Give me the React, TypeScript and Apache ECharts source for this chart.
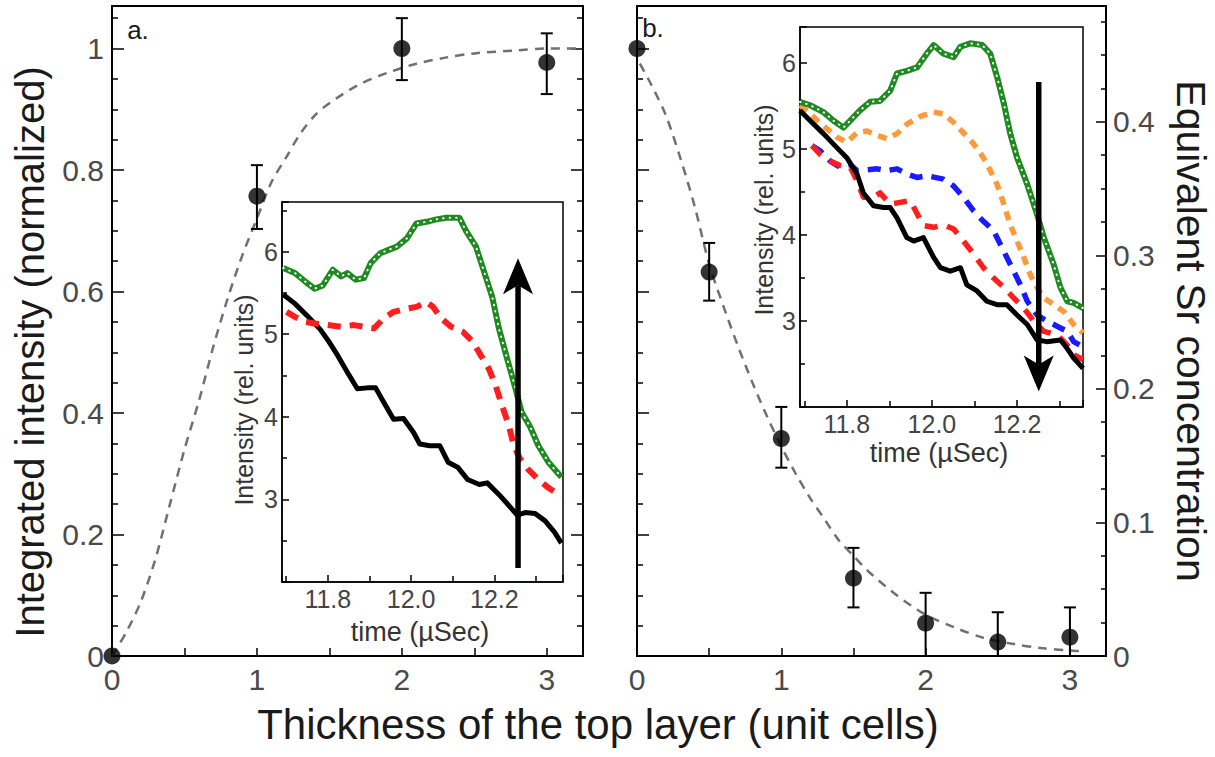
import React, { useEffect, useRef } from "react";
import * as echarts from "echarts";

// ---------- Panel a (main) ----------
const thicknessA = [0, 1, 2, 3];
const intensityA = [0, 0.757, 1.0, 0.977];
const errLowA = [null, 0.703, 0.948, 0.925];
const errHighA = [null, 0.808, 1.05, 1.025];
const fitXA = [0, 0.1, 0.2, 0.3, 0.4, 0.5, 0.6, 0.7, 0.8, 0.9, 1.0, 1.1, 1.2, 1.3, 1.4, 1.5, 1.7, 1.9, 2.1, 2.3, 2.5, 2.8, 3.0, 3.25];
const fitYA = [0, 0.04, 0.09, 0.16, 0.25, 0.34, 0.42, 0.51, 0.59, 0.66, 0.72, 0.78, 0.82, 0.86, 0.89, 0.91, 0.94, 0.96, 0.975, 0.985, 0.992, 0.997, 1.0, 1.0];

// ---------- Panel b (main) ----------
const thicknessB = [0, 0.5, 1, 1.5, 2, 2.5, 3];
const intensityB = [1.0, 0.632, 0.358, 0.128, 0.054, 0.023, 0.031];
const errLowB = [null, 0.585, 0.31, 0.08, 0, 0, 0];
const errHighB = [null, 0.68, 0.41, 0.178, 0.104, 0.072, 0.08];
const fitXB = [0.02, 0.1, 0.2, 0.3, 0.4, 0.5, 0.6, 0.7, 0.8, 0.9, 1.0, 1.1, 1.2, 1.3, 1.4, 1.5, 1.6, 1.8, 2.0, 2.2, 2.4, 2.6, 2.8, 3.0, 3.07];
const fitYB = [0.975, 0.94, 0.89, 0.82, 0.74, 0.645, 0.575, 0.51, 0.45, 0.395, 0.345, 0.30, 0.26, 0.225, 0.19, 0.165, 0.14, 0.10, 0.068, 0.047, 0.03, 0.02, 0.013, 0.009, 0.008];

// ---------- Tick labels ----------
const thickTicks = [0, 1, 2, 3];
const normTicks = [0, 0.2, 0.4, 0.6, 0.8, 1];
const srTicks = [0, 0.1, 0.2, 0.3, 0.4];
const timeTicks = [11.8, 12.0, 12.2];
const insetIntTicks = [3, 4, 5, 6];

// ---------- Inset a: [time (µs), intensity] ----------
const insetA_black = [[11.693,5.48],[11.721,5.37],[11.753,5.21],[11.780,5.07],[11.800,4.93],[11.824,4.74],[11.847,4.54],[11.871,4.34],[11.895,4.35],[11.915,4.35],[11.934,4.18],[11.958,3.97],[11.982,3.98],[12.006,3.81],[12.021,3.67],[12.045,3.65],[12.069,3.65],[12.089,3.45],[12.112,3.39],[12.136,3.24],[12.164,3.18],[12.183,3.20],[12.211,3.06],[12.243,2.88],[12.255,2.81],[12.274,2.84],[12.298,2.83],[12.322,2.74],[12.345,2.60],[12.361,2.47]];
const insetA_green = [[11.693,5.80],[11.721,5.74],[11.745,5.64],[11.768,5.55],[11.788,5.59],[11.812,5.78],[11.832,5.70],[11.847,5.74],[11.867,5.66],[11.887,5.68],[11.903,5.86],[11.926,5.98],[11.946,6.02],[11.966,6.06],[11.990,6.16],[12.013,6.34],[12.037,6.36],[12.061,6.39],[12.085,6.41],[12.116,6.41],[12.132,6.25],[12.156,6.06],[12.179,5.70],[12.195,5.45],[12.211,5.07],[12.231,4.70],[12.251,4.34],[12.266,4.05],[12.286,3.88],[12.306,3.65],[12.330,3.45],[12.361,3.27]];
const insetA_red = [[11.701,5.27],[11.721,5.21],[11.745,5.15],[11.768,5.13],[11.800,5.11],[11.832,5.09],[11.863,5.11],[11.887,5.09],[11.911,5.07],[11.934,5.19],[11.958,5.27],[11.990,5.31],[12.013,5.33],[12.037,5.39],[12.053,5.33],[12.073,5.19],[12.096,5.09],[12.124,5.03],[12.148,4.91],[12.168,4.74],[12.187,4.58],[12.203,4.38],[12.219,4.13],[12.235,3.89],[12.247,3.65],[12.262,3.49],[12.282,3.36],[12.306,3.24],[12.330,3.14],[12.361,3.04]];
const arrowA = [12.257, 2.17, 5.92];

// ---------- Inset b ----------
const insetB_green = [[11.690,5.55],[11.714,5.51],[11.745,5.43],[11.769,5.33],[11.792,5.25],[11.808,5.33],[11.831,5.45],[11.855,5.55],[11.878,5.56],[11.902,5.68],[11.918,5.88],[11.941,5.91],[11.965,5.95],[11.988,6.11],[12.004,6.21],[12.027,6.11],[12.051,6.07],[12.067,6.19],[12.090,6.23],[12.118,6.21],[12.137,6.11],[12.153,5.84],[12.169,5.53],[12.184,5.18],[12.200,4.90],[12.224,4.59],[12.247,4.24],[12.263,3.97],[12.286,3.66],[12.302,3.39],[12.318,3.23],[12.333,3.21],[12.355,3.15]];
const insetB_orange = [[11.690,5.51],[11.714,5.41],[11.745,5.27],[11.776,5.14],[11.800,5.08],[11.824,5.19],[11.847,5.21],[11.871,5.16],[11.894,5.12],[11.918,5.18],[11.941,5.29],[11.973,5.38],[12.004,5.43],[12.027,5.41],[12.051,5.31],[12.074,5.19],[12.098,5.06],[12.121,4.90],[12.137,4.75],[12.153,4.59],[12.169,4.36],[12.184,4.12],[12.200,3.93],[12.216,3.74],[12.231,3.54],[12.247,3.39],[12.263,3.27],[12.286,3.19],[12.310,3.11],[12.333,2.96],[12.355,2.86]];
const insetB_blue = [[11.718,5.04],[11.737,4.98],[11.761,4.86],[11.784,4.79],[11.808,4.82],[11.824,4.75],[11.871,4.77],[11.894,4.75],[11.918,4.77],[11.941,4.71],[11.965,4.67],[11.988,4.69],[12.027,4.65],[12.051,4.57],[12.074,4.44],[12.098,4.28],[12.121,4.16],[12.145,4.05],[12.169,3.81],[12.184,3.66],[12.208,3.42],[12.224,3.23],[12.247,3.07],[12.270,3.00],[12.294,2.94],[12.318,2.88],[12.333,2.76],[12.355,2.70]];
const insetB_red = [[11.718,5.04],[11.737,4.94],[11.761,4.86],[11.784,4.81],[11.808,4.79],[11.824,4.63],[11.839,4.44],[11.863,4.44],[11.878,4.49],[11.902,4.36],[11.925,4.38],[11.949,4.40],[11.980,4.11],[12.004,4.09],[12.027,4.12],[12.051,4.07],[12.074,3.93],[12.098,3.78],[12.121,3.62],[12.145,3.50],[12.169,3.39],[12.192,3.27],[12.216,3.15],[12.239,3.00],[12.263,2.88],[12.294,2.84],[12.318,2.72],[12.333,2.61],[12.355,2.55]];
const insetB_black = [[11.690,5.45],[11.714,5.33],[11.745,5.18],[11.776,5.02],[11.800,4.90],[11.824,4.71],[11.839,4.49],[11.863,4.34],[11.886,4.32],[11.902,4.32],[11.918,4.20],[11.941,3.97],[11.957,3.93],[11.980,3.97],[12.004,3.74],[12.020,3.62],[12.043,3.58],[12.067,3.62],[12.082,3.42],[12.106,3.35],[12.129,3.23],[12.153,3.19],[12.176,3.19],[12.200,3.07],[12.224,2.96],[12.247,2.78],[12.270,2.76],[12.302,2.78],[12.318,2.68],[12.333,2.57],[12.355,2.45]];
const arrowB = [12.251, 5.78, 2.18];

const FONT = "Liberation Sans";

const pickLabel = (list: number[], fmt: (v: number) => string) => (v: number) => {
  const m = list.find((t) => Math.abs(t - v) < 1e-6);
  return m === undefined ? "" : fmt(m);
};

const zip = (xs: number[], ys: number[]) => xs.map((x, i) => [x, ys[i]]);

const errData = (xs: number[], lo: (number | null)[], hi: (number | null)[]) =>
  xs.map((x, i) => (lo[i] == null ? null : [x, lo[i], hi[i]])).filter((d) => d !== null);

const errorRender = (params: any, api: any) => {
  const x = api.value(0);
  const pLo = api.coord([x, api.value(1)]);
  const pHi = api.coord([x, api.value(2)]);
  const hw = 6;
  const st = { stroke: "#000", lineWidth: 2 };
  return {
    type: "group",
    children: [
      { type: "line", shape: { x1: pLo[0], y1: pLo[1], x2: pHi[0], y2: pHi[1] }, style: st },
      { type: "line", shape: { x1: pHi[0] - hw, y1: pHi[1], x2: pHi[0] + hw, y2: pHi[1] }, style: st },
      { type: "line", shape: { x1: pLo[0] - hw, y1: pLo[1], x2: pLo[0] + hw, y2: pLo[1] }, style: st },
    ],
  };
};

const arrowRender = (params: any, api: any) => {
  const x = api.value(0);
  const p0 = api.coord([x, api.value(1)]);
  const p1 = api.coord([x, api.value(2)]);
  const dir = p1[1] < p0[1] ? -1 : 1;
  const headLen = 36, headW = 15, notch = 9;
  const px = p1[0];
  const tipY = p1[1];
  const baseY = tipY - dir * headLen;
  const notchY = tipY - dir * (headLen - notch);
  return {
    type: "group",
    children: [
      { type: "line", shape: { x1: px, y1: p0[1], x2: px, y2: notchY }, style: { stroke: "#000", lineWidth: 5.5 } },
      { type: "polygon", shape: { points: [[px, tipY], [px - headW, baseY], [px, notchY], [px + headW, baseY]] }, style: { fill: "#000" } },
    ],
  };
};

export default function App() {
  const ref = useRef<HTMLDivElement>(null);

  useEffect(() => {
    if (!ref.current) return;
    const chart = echarts.init(ref.current, null, { renderer: "svg" });

    const mainAxisLine = { show: true, lineStyle: { color: "#000", width: 2 } };
    const insetAxisLine = { show: true, lineStyle: { color: "#000", width: 1.5 } };
    const mainLabel = { fontSize: 30, color: "#4a4a4a", fontFamily: FONT };
    const insetLabel = { fontSize: 25, color: "#444", fontFamily: FONT };

    const mainX = (gridIndex: number) => ({
      type: "value", gridIndex, min: 0, max: 3.25, interval: 1,
      axisLine: mainAxisLine,
      axisTick: { show: true, inside: true, length: 8, lineStyle: { color: "#000", width: 1.5 } },
      minorTick: { show: true, splitNumber: 2, length: 8, lineStyle: { color: "#000", width: 1.5 } },
      splitLine: { show: false }, minorSplitLine: { show: false },
      axisLabel: { ...mainLabel, margin: 8, formatter: pickLabel(thickTicks, (v) => String(v)) },
    });
    const mainY = (gridIndex: number, position: string, labels: boolean) => ({
      type: "value", gridIndex, position, min: 0, max: 1.07, interval: 0.2,
      axisLine: mainAxisLine,
      axisTick: { show: true, inside: true, length: 12, lineStyle: { color: "#000", width: 1.5 } },
      minorTick: { show: true, splitNumber: 4, length: 6, lineStyle: { color: "#000", width: 1.5 } },
      splitLine: { show: false }, minorSplitLine: { show: false },
      axisLabel: { show: labels, ...mainLabel, margin: 8, formatter: pickLabel(normTicks, (v) => String(v)) },
    });
    const insetX = (gridIndex: number, max: number) => ({
      type: "value", gridIndex, min: 11.69, max, splitNumber: 3, z: 6,
      axisLine: insetAxisLine,
      axisTick: { show: true, inside: true, length: 7, lineStyle: { color: "#000", width: 1.5 } },
      minorTick: { show: true, splitNumber: 2, length: 6, lineStyle: { color: "#000", width: 1.5 } },
      splitLine: { show: false }, minorSplitLine: { show: false },
      axisLabel: { ...insetLabel, margin: 4, formatter: pickLabel(timeTicks, (v) => v.toFixed(1)) },
    });
    const insetY = (gridIndex: number, max: number) => ({
      type: "value", gridIndex, min: 2, max, interval: 1, z: 6,
      axisLine: insetAxisLine,
      axisTick: { show: true, inside: true, length: 7, lineStyle: { color: "#000", width: 1.5 } },
      minorTick: { show: true, splitNumber: 2, length: 5, lineStyle: { color: "#000", width: 1.5 } },
      splitLine: { show: false }, minorSplitLine: { show: false },
      axisLabel: { ...insetLabel, margin: 4, formatter: pickLabel(insetIntTicks, (v) => String(v)) },
    });

    const fitStyle = { color: "#707070", width: 2.5, type: [9, 7] };

    const insetLine = (data: number[][], xi: number, yi: number, color: string, width: number, type: any, z: number) => ({
      type: "line", xAxisIndex: xi, yAxisIndex: yi, data, showSymbol: false, symbol: "none",
      lineStyle: { color, width, type, cap: "butt", join: "round" }, z, silent: true,
    });
    const greenDots = (data: number[][], xi: number, yi: number, z: number) => ({
      type: "line", xAxisIndex: xi, yAxisIndex: yi, data, showSymbol: false, symbol: "none",
      lineStyle: { color: "#ffffff", width: 2, type: [0.5, 6], cap: "round" }, z, silent: true,
    });

    const titleText = (text: string, x: number, y: number, size: number, rotation = 0, fill = "#1a1a1a") => ({
      type: "text", x, y, rotation, silent: true, z: 20,
      style: { text, fontSize: size, fontFamily: FONT, fill, align: "center", verticalAlign: "middle", textAlign: "center", textVerticalAlign: "middle" },
    });

    chart.setOption({
      animation: false,
      backgroundColor: "#ffffff",
      textStyle: { fontFamily: FONT },
      grid: [
        { left: 112, top: 6, width: 471, height: 650, show: true, borderColor: "#000", borderWidth: 2, backgroundColor: "transparent" },
        { left: 637, top: 6, width: 469, height: 650, show: true, borderColor: "#000", borderWidth: 2, backgroundColor: "transparent" },
        { left: 282, top: 202, width: 281, height: 380, show: true, borderColor: "#000", borderWidth: 1.5, backgroundColor: "#ffffff", z: 5 },
        { left: 800, top: 27, width: 283, height: 380, show: true, borderColor: "#000", borderWidth: 1.5, backgroundColor: "#ffffff", z: 5 },
      ],
      xAxis: [mainX(0), mainX(1), insetX(2, 12.365), insetX(3, 12.355)],
      yAxis: [
        mainY(0, "left", true),
        mainY(0, "right", false),
        mainY(1, "left", false),
        {
          type: "value", gridIndex: 1, position: "right", min: 0, max: 0.4866, interval: 0.1,
          axisLine: mainAxisLine,
          axisTick: { show: true, inside: true, length: 10, lineStyle: { color: "#000", width: 1.5 } },
          minorTick: { show: true, splitNumber: 4, length: 5, lineStyle: { color: "#000", width: 1.5 } },
          splitLine: { show: false }, minorSplitLine: { show: false },
          axisLabel: { ...mainLabel, margin: 7, formatter: pickLabel(srTicks, (v) => String(v)) },
        },
        insetY(2, 6.6),
        insetY(3, 6.42),
      ],
      graphic: {
        elements: [
          titleText("Integrated intensity (normalized)", 30, 352, 40, Math.PI / 2),
          titleText("Thickness of the top layer (unit cells)", 598, 724, 42),
          titleText("Equivalent Sr concentration", 1191, 331, 41, -Math.PI / 2),
          titleText("a.", 138, 30, 26),
          titleText("b.", 653, 28, 26),
          titleText("Intensity (rel. units)", 244, 400, 25, Math.PI / 2, "#333"),
          titleText("time (\u00b5Sec)", 420, 632, 27, 0, "#333"),
          titleText("Intensity (rel. units)", 764, 210, 25, Math.PI / 2, "#333"),
          titleText("time (\u00b5Sec)", 939, 453, 27, 0, "#333"),
        ],
      },
      series: [
        // Panel a
        { type: "line", xAxisIndex: 0, yAxisIndex: 0, data: zip(fitXA, fitYA), showSymbol: false, symbol: "none", smooth: 0.3, lineStyle: fitStyle, z: 2, silent: true },
        { type: "custom", xAxisIndex: 0, yAxisIndex: 0, data: errData(thicknessA, errLowA, errHighA), renderItem: errorRender, encode: { x: 0, y: [1, 2] }, z: 3, silent: true, clip: false },
        { type: "scatter", xAxisIndex: 0, yAxisIndex: 0, data: zip(thicknessA, intensityA), symbolSize: 17, itemStyle: { color: "#000" }, z: 4, silent: true, clip: false },
        // Panel b
        { type: "line", xAxisIndex: 1, yAxisIndex: 2, data: zip(fitXB, fitYB), showSymbol: false, symbol: "none", smooth: 0.3, lineStyle: fitStyle, z: 2, silent: true },
        { type: "custom", xAxisIndex: 1, yAxisIndex: 2, data: errData(thicknessB, errLowB, errHighB), renderItem: errorRender, encode: { x: 0, y: [1, 2] }, z: 3, silent: true, clip: false },
        { type: "scatter", xAxisIndex: 1, yAxisIndex: 2, data: zip(thicknessB, intensityB), symbolSize: 17, itemStyle: { color: "#000" }, z: 4, silent: true, clip: false },
        // Inset a
        insetLine(insetA_black, 2, 4, "#000000", 5, "solid", 8),
        insetLine(insetA_red, 2, 4, "#ff1e1e", 6, [13, 9], 9),
        insetLine(insetA_green, 2, 4, "#1f8a1f", 6, "solid", 10),
        greenDots(insetA_green, 2, 4, 11),
        { type: "custom", xAxisIndex: 2, yAxisIndex: 4, data: [arrowA], renderItem: arrowRender, z: 12, silent: true, clip: false },
        // Inset b
        insetLine(insetB_orange, 3, 5, "#ff9a3c", 5.5, [9, 7], 8),
        insetLine(insetB_blue, 3, 5, "#1a1aff", 5.5, [13, 9], 9),
        insetLine(insetB_red, 3, 5, "#ff1e1e", 5.5, [13, 10], 10),
        insetLine(insetB_black, 3, 5, "#000000", 5, "solid", 11),
        insetLine(insetB_green, 3, 5, "#1f8a1f", 6, "solid", 12),
        greenDots(insetB_green, 3, 5, 13),
        { type: "custom", xAxisIndex: 3, yAxisIndex: 5, data: [arrowB], renderItem: arrowRender, z: 14, silent: true, clip: false },
      ],
    });

    return () => chart.dispose();
  }, []);

  return (
    <div
      ref={ref}
      style={{ position: "absolute", left: 0, top: 0, width: 1215, height: 757, background: "#fff" }}
    />
  );
}
